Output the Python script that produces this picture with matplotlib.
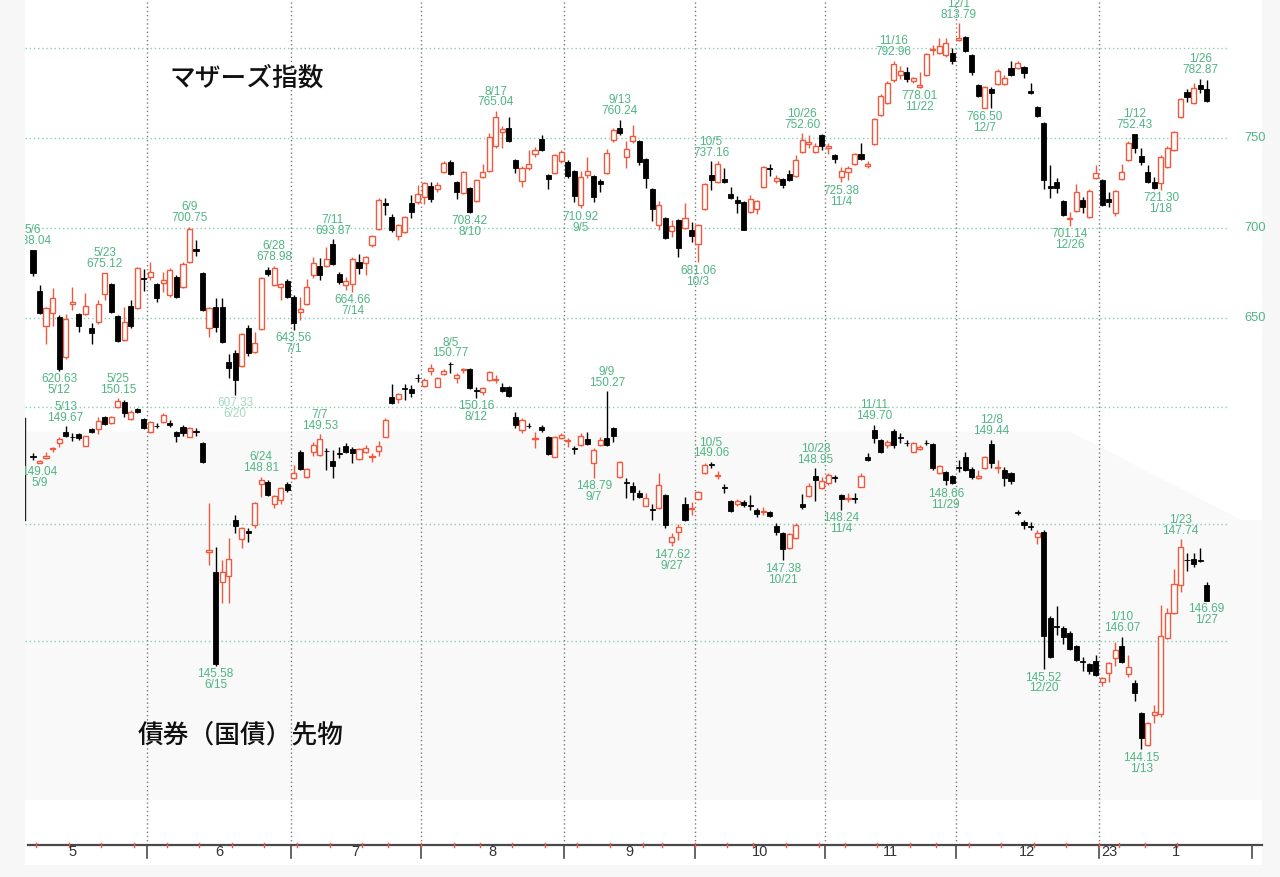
import numpy as np
import pandas as pd
import matplotlib
matplotlib.use("Agg")
import matplotlib.pyplot as plt
import matplotlib.transforms as mtrans
from matplotlib import font_manager

# trading days (TSE), 2022-05-06 .. 2023-01-27
holidays = ["2022-07-18", "2022-08-11", "2022-09-19", "2022-09-23", "2022-10-10",
            "2022-11-03", "2022-11-23", "2023-01-02", "2023-01-03", "2023-01-09"]
dates = pd.bdate_range("2022-05-06", "2023-01-27")
dates = dates[~dates.isin(pd.to_datetime(holidays))]

# Mothers index OHLC
m_open = [
    688.0, 665.0, 645.6, 652.8, 650.6, 628.3, 657.8, 652.2, 652.2, 644.4, 647.8, 663.3, 668.9, 651.1, 637.8, 656.7, 655.6, 672.2,
    672.8, 668.9, 669.4, 662.8, 672.8, 667.2, 681.1, 688.3, 675.0, 644.4, 656.1, 656.1, 625.6, 630.6, 623.3, 644.4, 631.1, 643.9, 676.7, 668.3, 667.2, 670.6,
    661.7, 653.3, 657.8, 673.9, 678.9, 678.9, 691.1, 674.4, 668.3, 668.9, 681.1, 680.6, 690.6, 699.4, 713.9, 706.1, 695.6, 697.8, 713.9, 714.4,
    717.2, 723.3, 721.7, 731.1, 736.7, 725.6, 719.4, 722.2, 715.0, 728.3, 731.7, 745.6, 753.3, 755.6, 737.8, 726.1, 733.3, 741.1, 749.4, 729.4, 730.6, 737.2,
    736.7, 731.7, 712.8, 729.4, 728.9, 726.1, 730.6, 748.9, 755.6, 739.4, 748.3, 748.3, 738.3, 721.7, 701.7, 705.6, 698.3, 704.4, 700.0, 698.9,
    691.1, 710.6, 729.4, 725.6, 727.2, 718.9, 715.6, 714.4, 708.9, 710.6, 722.8, 733.3, 726.1, 727.2, 730.0, 728.9, 742.2, 746.7, 742.2, 751.7,
    744.4, 740.6, 728.3, 731.1, 735.6, 741.1, 734.4, 746.7, 762.8, 769.4, 782.2, 785.0, 786.7, 781.7, 778.3, 785.0, 798.9, 797.2, 796.1, 797.2,
    804.4, 806.1, 796.1, 779.4, 766.7, 777.2, 780.0, 780.0, 788.9, 788.9, 789.4, 776.1, 767.2, 758.3, 723.3, 725.6, 715.0, 705.0, 709.4, 715.6, 706.1, 727.8,
    726.7, 716.1, 708.3, 727.2, 737.8, 752.2, 740.0, 731.1, 725.6, 725.0, 733.9, 743.3, 761.7, 775.6, 769.4, 779.4, 777.2,
]
m_high = [
    688.04, 668.3, 656.0, 666.7, 651.5, 652.2, 667.2, 652.8, 663.9, 647.2, 660.0, 675.12, 669.5, 651.5, 656.1, 660.0, 678.3, 677.2,
    681.1, 669.5, 675.6, 677.8, 674.0, 681.1, 700.75, 693.3, 675.5, 656.1, 661.1, 661.1, 630.0, 632.2, 641.7, 646.1, 642.2, 672.8, 678.3, 678.98, 669.4, 671.7,
    662.8, 661.7, 671.7, 683.9, 683.3, 689.4, 693.87, 675.6, 672.8, 683.9, 685.6, 684.4, 696.1, 716.7, 716.7, 707.8, 702.2, 706.7, 718.3, 723.9,
    725.6, 725.6, 725.6, 737.2, 737.8, 726.1, 731.7, 722.8, 727.2, 735.6, 752.8, 765.04, 756.7, 761.7, 738.3, 734.4, 743.3, 745.0, 751.7, 729.9, 741.1, 743.3,
    737.8, 732.2, 731.7, 739.4, 729.4, 727.2, 743.9, 755.6, 760.24, 748.3, 757.2, 748.9, 738.9, 722.2, 715.0, 706.1, 704.4, 705.0, 713.9, 703.3,
    702.2, 725.0, 737.16, 737.0, 733.3, 722.8, 717.8, 714.9, 718.3, 715.6, 734.4, 735.6, 729.4, 727.8, 732.2, 740.6, 752.60, 751.5, 747.2, 752.0,
    747.2, 741.1, 733.9, 734.4, 741.7, 747.2, 737.2, 761.1, 774.4, 781.7, 792.96, 790.0, 789.4, 783.9, 786.7, 797.2, 801.7, 805.6, 805.6, 800.0,
    813.79, 806.7, 796.7, 780.0, 778.9, 778.3, 788.3, 785.0, 792.8, 792.8, 790.0, 780.6, 767.8, 758.9, 735.0, 727.8, 715.5, 708.9, 724.4, 717.2, 721.7, 735.0,
    727.2, 720.0, 721.1, 735.6, 748.3, 752.43, 744.4, 735.0, 728.3, 740.6, 745.6, 753.9, 772.2, 777.2, 780.6, 782.87, 782.2,
]
m_low = [
    673.3, 652.0, 635.6, 645.6, 620.63, 627.5, 654.4, 642.2, 651.7, 635.6, 646.7, 660.0, 652.8, 636.7, 637.2, 644.4, 655.0, 665.0,
    671.1, 658.9, 664.4, 661.7, 661.1, 666.7, 680.6, 684.4, 654.0, 639.4, 642.2, 636.1, 616.7, 607.33, 622.8, 628.9, 630.6, 643.3, 673.3, 667.8, 660.0, 661.1,
    643.56, 648.9, 657.2, 672.2, 671.1, 678.3, 679.4, 668.9, 665.6, 664.66, 674.4, 673.9, 689.4, 698.9, 707.2, 697.8, 693.3, 697.2, 705.6, 713.3,
    713.3, 714.4, 720.0, 730.6, 729.4, 716.1, 718.9, 708.42, 714.4, 727.8, 731.1, 744.4, 744.4, 747.8, 730.6, 722.8, 732.2, 739.4, 742.8, 721.7, 730.0, 736.1,
    727.8, 714.4, 710.92, 727.8, 714.4, 720.0, 730.0, 747.8, 751.7, 733.3, 747.2, 735.0, 722.2, 703.9, 698.9, 694.0, 695.0, 683.9, 699.4, 692.2,
    681.06, 710.0, 721.1, 725.0, 725.0, 716.1, 708.3, 698.9, 708.3, 707.8, 722.2, 728.9, 725.0, 722.2, 726.1, 728.3, 741.7, 744.4, 741.7, 743.3,
    741.1, 736.1, 725.38, 726.7, 735.0, 737.8, 733.3, 746.1, 762.2, 769.0, 781.1, 783.0, 781.1, 780.6, 778.01, 784.4, 796.1, 796.7, 795.0, 791.1,
    803.9, 797.8, 785.0, 772.8, 766.50, 766.7, 779.4, 779.4, 784.4, 788.3, 783.3, 774.4, 761.7, 721.7, 716.7, 719.4, 706.7, 701.14, 708.9, 708.3, 705.6, 727.2,
    712.2, 711.7, 706.7, 726.7, 737.2, 741.7, 735.0, 725.0, 721.7, 721.30, 733.3, 742.8, 761.1, 770.0, 768.9, 775.0, 770.0,
]
m_close = [
    675.0, 652.8, 655.6, 661.1, 621.7, 649.4, 658.9, 645.6, 656.7, 641.7, 657.8, 675.0, 653.3, 637.2, 647.8, 645.6, 677.8, 671.7,
    675.6, 661.1, 671.1, 676.7, 661.7, 680.0, 699.4, 687.2, 654.4, 655.6, 645.0, 636.7, 622.2, 615.6, 641.1, 630.6, 636.1, 672.2, 674.4, 677.8, 668.9, 661.7,
    647.2, 655.0, 667.2, 680.6, 673.9, 682.8, 680.0, 670.0, 670.6, 682.8, 677.8, 683.9, 695.6, 715.6, 712.8, 698.9, 701.7, 706.1, 708.9, 718.9,
    725.0, 716.1, 723.9, 736.1, 730.0, 720.0, 731.1, 708.9, 726.7, 731.1, 750.6, 761.7, 755.0, 748.3, 733.3, 733.3, 735.6, 743.3, 743.3, 727.2, 740.6, 742.2,
    728.9, 717.8, 728.3, 731.7, 717.2, 724.4, 741.7, 754.4, 752.8, 743.9, 751.1, 736.7, 727.8, 710.6, 712.8, 694.4, 701.1, 688.9, 705.6, 695.6,
    701.7, 724.4, 726.7, 735.6, 725.6, 716.7, 713.9, 698.9, 716.1, 715.0, 733.9, 732.8, 727.8, 723.9, 726.7, 737.8, 748.9, 747.8, 745.6, 745.6,
    745.6, 738.3, 731.7, 733.3, 741.1, 738.3, 735.6, 760.6, 773.3, 780.6, 791.1, 787.0, 782.8, 783.3, 779.4, 796.7, 799.4, 801.1, 802.8, 792.8,
    805.6, 798.3, 786.7, 773.3, 778.3, 775.0, 787.2, 783.3, 785.0, 791.7, 786.1, 775.0, 762.2, 726.7, 722.2, 722.2, 707.2, 705.6, 720.0, 711.7, 720.6, 730.6,
    712.8, 714.4, 720.6, 731.1, 747.2, 744.4, 736.7, 725.6, 722.2, 739.4, 744.4, 753.3, 771.7, 772.8, 777.8, 777.2, 770.6,
]

# JGB futures OHLC
b_open = [
    149.16, 149.04, 149.13, 149.28, 149.38, 149.57, 149.49, 149.54, 149.33, 149.62, 149.62, 149.83, 149.73, 150.00, 150.09, 149.79, 149.97, 149.79,
    149.57, 149.68, 149.74, 149.73, 149.57, 149.66, 149.49, 149.58, 149.38, 147.52, 147.18, 147.01, 147.11, 148.07, 147.74, 147.88, 147.98, 148.68, 148.72, 148.34, 148.41, 148.68,
    148.79, 149.23, 148.80, 149.23, 149.18, 149.25, 149.08, 149.21, 149.33, 149.28, 149.11, 149.23, 149.15, 149.25, 149.49, 150.17, 150.14, 150.32, 150.31, 150.50,
    150.36, 150.62, 150.34, 150.56, 150.74, 150.50, 150.63, 150.65, 150.28, 150.26, 150.46, 150.46, 150.34, 150.34, 149.83, 149.61, 149.68, 149.45, 149.66, 149.49, 149.15, 149.47,
    149.42, 149.29, 149.35, 149.45, 149.04, 149.35, 149.47, 149.64, 148.80, 148.71, 148.65, 148.53, 148.31, 148.25, 148.27, 148.50, 147.69, 147.86, 148.34, 148.26,
    148.43, 148.87, 149.02, 148.82, 148.63, 148.39, 148.34, 148.38, 148.32, 148.24, 148.21, 148.21, 147.97, 147.85, 147.59, 147.76, 148.34, 148.48, 148.82, 148.62,
    148.70, 148.79, 148.50, 148.43, 148.44, 148.63, 149.15, 149.61, 149.44, 149.35, 149.59, 149.48, 149.39, 149.23, 149.28, 149.39, 149.37, 148.87, 148.89, 148.82,
    148.97, 149.15, 148.94, 148.79, 148.96, 149.37, 148.96, 148.92, 148.87, 148.20, 148.03, 147.96, 147.78, 147.86, 146.39, 146.25, 146.22, 146.14, 145.91, 145.65, 145.61, 145.66,
    145.30, 145.45, 145.71, 145.91, 145.44, 145.28, 144.77, 144.22, 144.74, 144.75, 146.05, 146.48, 146.96, 147.39, 147.40, 147.38, 146.96,
]
b_high = [
    149.21, 149.09, 149.23, 149.32, 149.49, 149.67, 149.56, 149.56, 149.50, 149.64, 149.83, 149.85, 149.85, 150.15, 150.12, 149.95, 149.99, 149.81,
    149.76, 149.73, 149.90, 149.78, 149.59, 149.69, 149.66, 149.64, 149.40, 148.36, 147.61, 147.38, 147.76, 148.15, 147.95, 147.93, 148.38, 148.81, 148.75, 148.50, 148.63, 148.72,
    149.01, 149.26, 148.96, 149.40, 149.53, 149.30, 149.26, 149.32, 149.38, 149.32, 149.30, 149.35, 149.21, 149.42, 149.81, 150.39, 150.24, 150.39, 150.38, 150.56,
    150.50, 150.74, 150.51, 150.65, 150.77, 150.58, 150.67, 150.67, 150.34, 150.34, 150.62, 150.55, 150.41, 150.36, 149.91, 149.81, 149.73, 149.57, 149.69, 149.51, 149.51, 149.56,
    149.47, 149.33, 149.56, 149.57, 149.30, 149.49, 150.27, 149.66, 149.08, 148.79, 148.72, 148.58, 148.53, 148.34, 148.87, 148.52, 147.85, 148.00, 148.46, 148.38,
    148.57, 149.04, 149.06, 148.91, 148.68, 148.41, 148.43, 148.41, 148.50, 148.27, 148.29, 148.22, 148.02, 147.87, 147.85, 148.02, 148.51, 148.70, 148.95, 148.81,
    148.87, 148.84, 148.52, 148.53, 148.53, 148.87, 149.22, 149.70, 149.46, 149.44, 149.62, 149.56, 149.44, 149.40, 149.35, 149.44, 149.39, 149.01, 148.91, 148.84,
    149.09, 149.23, 148.97, 148.92, 149.17, 149.44, 149.09, 148.97, 148.89, 148.24, 148.07, 148.03, 147.90, 147.90, 146.43, 146.60, 146.26, 146.17, 145.93, 145.73, 145.63, 145.76,
    145.39, 145.64, 145.98, 146.07, 145.76, 145.33, 144.78, 144.62, 144.91, 146.62, 146.56, 147.23, 147.74, 147.50, 147.50, 147.59, 147.01,
]
b_low = [
    149.09, 149.04, 149.11, 149.23, 149.32, 149.49, 149.42, 149.44, 149.33, 149.56, 149.54, 149.69, 149.71, 149.98, 149.83, 149.78, 149.89, 149.62,
    149.55, 149.64, 149.72, 149.66, 149.40, 149.50, 149.49, 149.50, 149.04, 147.30, 145.58, 146.65, 146.65, 147.85, 147.59, 147.69, 147.93, 148.46, 148.48, 148.27, 148.34, 148.55,
    148.77, 148.92, 148.79, 149.16, 149.16, 148.92, 148.79, 149.13, 149.21, 149.04, 149.09, 149.21, 149.06, 149.16, 149.49, 150.05, 150.07, 150.12, 150.17, 150.43,
    150.34, 150.55, 150.34, 150.55, 150.58, 150.41, 150.58, 150.31, 150.16, 150.21, 150.44, 150.41, 150.26, 150.17, 149.64, 149.56, 149.64, 149.30, 149.57, 149.18, 149.15, 149.45,
    149.32, 149.20, 149.33, 149.35, 148.79, 149.33, 149.33, 149.40, 148.78, 148.44, 148.41, 148.44, 148.31, 148.07, 148.25, 147.93, 147.62, 147.73, 148.05, 148.15,
    148.41, 148.85, 148.96, 148.77, 148.53, 148.21, 148.31, 148.29, 148.24, 148.12, 148.15, 148.12, 147.81, 147.38, 147.57, 147.74, 148.26, 148.46, 148.39, 148.60,
    148.67, 148.72, 148.24, 148.38, 148.36, 148.63, 149.07, 149.38, 149.21, 149.30, 149.30, 149.38, 149.33, 149.23, 149.27, 149.35, 148.92, 148.85, 148.66, 148.68,
    148.89, 148.90, 148.77, 148.77, 148.94, 148.96, 148.87, 148.65, 148.68, 148.15, 147.91, 147.90, 147.66, 145.52, 145.71, 146.10, 145.95, 145.84, 145.65, 145.49, 145.44, 145.40,
    145.23, 145.30, 145.57, 145.62, 145.38, 144.97, 144.15, 144.20, 144.60, 144.70, 146.03, 146.47, 146.84, 147.20, 147.27, 147.35, 146.69,
]
b_close = [
    149.15, 149.08, 149.16, 149.30, 149.45, 149.50, 149.48, 149.47, 149.50, 149.57, 149.76, 149.71, 149.83, 150.10, 149.90, 149.91, 149.91, 149.64,
    149.74, 149.67, 149.86, 149.69, 149.50, 149.56, 149.64, 149.57, 149.06, 147.56, 145.60, 147.18, 147.40, 147.97, 147.93, 147.85, 148.36, 148.75, 148.50, 148.48, 148.62, 148.58,
    148.87, 148.94, 148.94, 149.35, 149.45, 149.24, 148.99, 149.20, 149.23, 149.21, 149.28, 149.30, 149.16, 149.33, 149.78, 150.07, 150.22, 150.31, 150.24, 150.49,
    150.46, 150.67, 150.50, 150.62, 150.73, 150.55, 150.65, 150.32, 150.27, 150.32, 150.60, 150.48, 150.27, 150.18, 149.69, 149.78, 149.67, 149.47, 149.61, 149.20, 149.49, 149.52,
    149.44, 149.28, 149.50, 149.37, 149.26, 149.44, 149.35, 149.50, 149.06, 148.70, 148.55, 148.46, 148.44, 148.24, 148.67, 147.98, 147.78, 147.95, 148.07, 148.27,
    148.55, 149.01, 149.01, 148.84, 148.62, 148.22, 148.39, 148.32, 148.31, 148.17, 148.22, 148.14, 147.86, 147.57, 147.83, 147.98, 148.29, 148.65, 148.75, 148.74,
    148.84, 148.79, 148.43, 148.44, 148.43, 148.82, 149.09, 149.47, 149.23, 149.40, 149.35, 149.47, 149.38, 149.38, 149.32, 149.38, 148.96, 148.99, 148.75, 148.70,
    148.96, 148.92, 148.80, 148.82, 149.15, 149.04, 148.97, 148.79, 148.74, 148.19, 147.98, 147.95, 147.85, 146.09, 145.73, 146.24, 146.07, 145.86, 145.68, 145.64, 145.49, 145.42,
    145.37, 145.62, 145.85, 145.64, 145.56, 145.11, 144.34, 144.60, 144.79, 146.09, 146.48, 146.97, 147.61, 147.38, 147.32, 147.37, 146.69,
]

# labelled highs / lows (date strings)
m_high_marks = ["5/6", "5/23", "6/9", "6/28", "7/11", "8/17", "9/13", "10/5", "10/26", "11/16", "12/1", "1/12", "1/26"]
m_low_marks = ["5/12", "6/20", "7/1", "7/14", "8/10", "9/5", "10/3", "11/4", "11/22", "12/7", "12/26", "1/18"]
b_high_marks = ["5/13", "5/25", "6/24", "7/7", "8/5", "9/9", "10/5", "10/28", "11/11", "12/8", "1/10", "1/23"]
b_low_marks = ["5/9", "6/15", "8/12", "9/7", "9/27", "10/21", "11/4", "11/29", "12/20", "1/13", "1/27"]
faded_marks = ["6/20"]

m_grid = [650, 700, 750, 800]
m_ticks = [750, 700, 650]
b_grid = [146, 148, 150]
month_labels = ["5", "6", "7", "8", "9", "10", "11", "12", "1"]

RED = "#ef5a3e"
GREEN = "#4fb583"
GRIDC = "#86cfb0"

names = {f.name for f in font_manager.fontManager.ttflist}
if "Liberation Sans Narrow" in names:
    LBL_FONT, LBL_SIZE = "Liberation Sans Narrow", 10.2
else:
    LBL_FONT, LBL_SIZE = "Liberation Sans", 8.5
JP = ["Noto Sans CJK JP", "DejaVu Sans"]

keys = [f"{d.month}/{d.day}" for d in dates]
pos = {k: i for i, k in enumerate(keys)}
x = np.arange(len(dates))


def candles(ax, o, h, l, c, minh):
    o, h, l, c = map(np.asarray, (o, h, l, c))
    up = c > o
    lo = np.minimum(o, c)
    hh = np.maximum(np.abs(c - o), minh)
    ax.vlines(x[up], l[up], h[up], color=RED, lw=1, zorder=2)
    ax.vlines(x[~up], l[~up], h[~up], color="black", lw=1, zorder=2)
    ax.bar(x[up], hh[up], 0.78, lo[up], facecolor="white", edgecolor=RED, lw=1, zorder=3)
    ax.bar(x[~up], hh[~up], 0.78, lo[~up], facecolor="black", edgecolor="black", lw=0.6, zorder=3)


def marks(ax, hi_list, lo_list, h, l):
    for d in hi_list:
        i = pos[d]
        col = "#a6d9c0" if d in faded_marks else GREEN
        ax.annotate(f"{d}\n{h[i]:.2f}", (i, h[i]), xytext=(0, 1.8), textcoords="offset points",
                    ha="center", va="bottom", color=col, fontsize=LBL_SIZE, family=LBL_FONT,
                    linespacing=0.88, clip_on=True, zorder=5)
    for d in lo_list:
        i = pos[d]
        col = "#a6d9c0" if d in faded_marks else GREEN
        ax.annotate(f"{l[i]:.2f}\n{d}", (i, l[i]), xytext=(0, -1.8), textcoords="offset points",
                    ha="center", va="top", color=col, fontsize=LBL_SIZE, family=LBL_FONT,
                    linespacing=0.88, clip_on=True, zorder=5)


fig = plt.figure(figsize=(12.8, 8.77), dpi=100, facecolor="#f7f7f7")
ax = fig.add_axes([25 / 1280, 12 / 877, 1237 / 1280, 865 / 877])
ax.set_facecolor("white")
ax2 = ax.twinx()
ax2.patch.set_visible(False)
for a in (ax, ax2):
    for s in a.spines.values():
        s.set_visible(False)
    a.set_xticks([])
    a.set_yticks([])

XMIN, XMAX = -1.227, 188.5
GRID_END = 183.3

# faint grey backdrop behind the lower chart
ax.fill([0, 0.845, 0.983, 1, 1, 0], [0.501, 0.501, 0.399, 0.399, 0.075, 0.075],
        transform=ax.transAxes, color="#f9f9f9", lw=0, zorder=0)

ax.hlines(m_grid, XMIN, GRID_END, colors=GRIDC, linestyles=(0, (1, 2)), lw=1, zorder=1)
ax2.hlines(b_grid, XMIN, GRID_END, colors=GRIDC, linestyles=(0, (1, 2)), lw=1, zorder=1)

trans = mtrans.blended_transform_factory(ax.transData, ax.transAxes)
month_start = [i for i in range(1, len(dates)) if dates[i].month != dates[i - 1].month]
bounds = [i - 0.5 for i in month_start]
for b in bounds:
    ax.plot([b, b], [0.0231, 1], transform=trans, color="#7a7a7a", lw=1,
            ls=(0, (1, 2)), zorder=1)

candles(ax, m_open, m_high, m_low, m_close, 0.35)
candles(ax2, b_open, b_high, b_low, b_close, 0.012)
marks(ax, m_high_marks, m_low_marks, m_high, m_low)
marks(ax2, b_high_marks, b_low_marks, b_high, b_low)

for v in m_ticks:
    ax.text(187.4, v, str(v), color=GREEN, fontsize=LBL_SIZE + 0.8, family=LBL_FONT,
            ha="center", va="center")

# date axis
ax.plot([-0.8, XMAX], [0.0231, 0.0231], transform=trans, color="#4a4a4a", lw=1.6, clip_on=False)
ends = bounds + [187.0]
for b in ends:
    ax.plot([b, b], [0.0081, 0.0231], transform=trans, color="#4a4a4a", lw=1.2)
iso = dates.isocalendar()
wk = [i for i in range(1, len(dates)) if iso.week.iloc[i] != iso.week.iloc[i - 1]]
for i in wk:
    ax.plot([i - 0.5, i - 0.5], [0.0212, 0.0254], transform=trans, color=RED, lw=1)
edges = [-5.5] + ends
for k, lab in enumerate(month_labels):
    ax.text((edges[k] + edges[k + 1]) / 2, 0.0150, lab, transform=trans, ha="center",
            va="center", fontsize=10.5, family=LBL_FONT, color="#333333")
ax.text(bounds[-1] + 0.3, 0.0150, "23", transform=trans, ha="left", va="center",
        fontsize=10.5, family=LBL_FONT, color="#333333")

ax.plot([0.0004, 0.0004], [0.399, 0.517], transform=ax.transAxes, color="#222222", lw=1)

ax.set_xlim(XMIN, XMAX)
ax.set_ylim(346.11, 826.67)
ax2.set_ylim(142.171, 156.957)

fig.text(170 / 1280, 1 - 78 / 877, "マザーズ指数", family=JP, fontsize=18.5,
         weight="medium", ha="left", va="center", color="#111111")
fig.text(138 / 1280, 1 - 735 / 877, "債券（国債）先物", family=JP, fontsize=18.5,
         weight="medium", ha="left", va="center", color="#111111")

fig.savefig("out.png", dpi=100, facecolor=fig.get_facecolor())
